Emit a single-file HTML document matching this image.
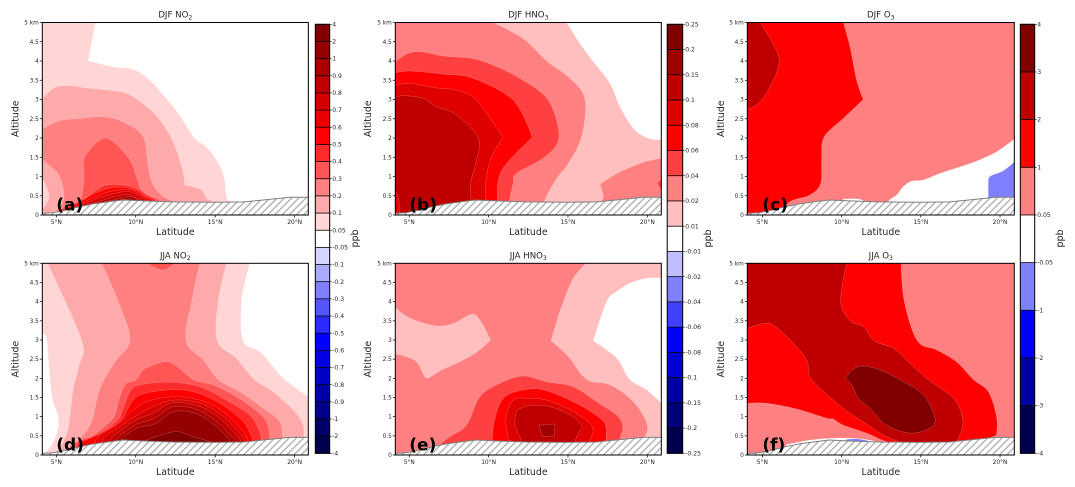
<!DOCTYPE html>
<html lang="en">
<head>
<meta charset="utf-8">
<title>Seasonal trace gas differences by latitude and altitude</title>
<style>
html,body{margin:0;padding:0;background:#fff;width:1075px;height:487px;overflow:hidden}
svg{display:block}
text{font-family:"DejaVu Sans","Liberation Sans",sans-serif;fill:#262626}
</style>
</head>
<body>
<svg id="figure" xmlns="http://www.w3.org/2000/svg" width="1075" height="487" viewBox="0 0 1075 487">
<defs>
<pattern id="hatch" patternUnits="userSpaceOnUse" width="7.2" height="7.2">
<rect width="7.2" height="7.2" fill="#fff"/>
<path d="M-1 1L1 -1M0 7.2L7.2 0M6.2 8.2L8.2 6.2" stroke="#adadad" stroke-width="1.3" fill="none"/>
</pattern>
</defs>
</svg>
<script>
// ---------- tick labels and levels ----------
const altTicks = [0, 0.5, 1, 1.5, 2, 2.5, 3, 3.5, 4, 4.5, 5];
const altTickLabels = ['0', '0.5', '1', '1.5', '2', '2.5', '3', '3.5', '4', '4.5', '5 km'];
const latTicks = [5, 10, 15, 20];
const latTickLabels = ['5°N', '10°N', '15°N', '20°N'];
const no2Levels = [-4, -2, -1, -0.9, -0.8, -0.7, -0.6, -0.5, -0.4, -0.3, -0.2, -0.1, -0.05, 0.05, 0.1, 0.2, 0.3, 0.4, 0.5, 0.6, 0.7, 0.8, 0.9, 1, 2, 4];
const hno3Levels = [-0.25, -0.2, -0.15, -0.1, -0.08, -0.06, -0.04, -0.02, -0.01, 0.01, 0.02, 0.04, 0.06, 0.08, 0.1, 0.15, 0.2, 0.25];
const o3Levels = [-4, -3, -2, -1, -0.05, 0.05, 1, 2, 3, 4];

// ---------- terrain profile ----------
const terrainLat = [4.0, 4.8, 5.65, 6.5, 7.33, 8.4, 9.2, 10.9, 12.36, 14.9, 16.8, 17.8, 19.7, 21.0];
const terrainAlt = [0.04, 0.06, 0.13, 0.22, 0.29, 0.35, 0.39, 0.36, 0.34, 0.33, 0.34, 0.38, 0.46, 0.46];

// ---------- (a) DJF NO2 contours: [latitude, altitude km] ----------
const djfNo2L005 = [[4.12,5],[7.47,5],[7.01,4],[8.58,3.85],[9.84,3.78],[10.89,3.5],[12.15,2.92],[12.88,2.51],[13.72,1.99],[14.45,1.77],[15.08,1.43],[15.55,1],[15.71,0.48],[15.88,0.33],[15.9,0],[4.12,0]];
const djfNo2L01 = [[4.12,3.01],[4.81,3.29],[5.65,3.36],[6.91,3.3],[8.38,3.24],[9.53,3.14],[10.68,2.81],[11.52,2.47],[12.36,1.9],[12.95,1.17],[13.09,0.78],[14.14,0.65],[14.45,0.43],[14.87,0.33],[14.87,0],[4.12,0]];
const djfNo2L02 = [[4.12,2.23],[5.23,2.45],[6.49,2.51],[7.96,2.55],[9.21,2.42],[10.47,2.03],[10.79,1.25],[11.1,0.78],[11.73,0.48],[12.36,0.33],[12.36,0],[4.81,0],[5.44,0.39],[5.38,0.78],[5.02,1.12],[4.12,1.43]];
const djfNo2Inner005 = [[4.12,0.95],[4.54,0.56],[4.39,0.3],[4.12,0.17]];
const djfNo2L03 = [[7.85,1.97],[8.58,1.9],[9.63,1.43],[10.05,1],[10.37,0.65],[11,0.48],[11.52,0.36],[11.52,0],[5.65,0],[5.65,0.17],[6.17,0.29],[6.59,0.48],[6.74,0.99],[6.8,1.51]];
const djfNo2L04 = [[5.23,0.15],[6.28,0.3],[7.54,0.65],[8.17,0.78],[9.21,0.78],[10.05,0.69],[10.68,0.52],[11.31,0.36],[11.31,0],[5.23,0]];
const djfNo2L05 = [[5.44,0.13],[6.49,0.35],[7.43,0.56],[8.27,0.69],[9.21,0.72],[10.05,0.63],[10.58,0.48],[11.06,0.36],[11.06,0],[5.44,0]];
const djfNo2L06 = [[5.6,0.13],[6.49,0.29],[7.54,0.48],[8.38,0.61],[9.42,0.67],[10.05,0.58],[10.79,0.36],[10.79,0],[5.6,0]];
const djfNo2L07 = [[6.07,0.17],[7.54,0.42],[8.58,0.55],[9.53,0.61],[10.26,0.48],[10.58,0.36],[10.58,0],[6.07,0]];
const djfNo2L08 = [[6.7,0.23],[7.75,0.36],[8.8,0.49],[9.53,0.54],[10.05,0.43],[10.37,0.36],[10.37,0],[6.7,0]];
const djfNo2L09 = [[7.54,0.29],[9,0.43],[9.63,0.48],[10.16,0.36],[10.16,0],[7.54,0]];
const djfNo2L1 = [[8.58,0.35],[9.53,0.42],[9.84,0.36],[9.84,0],[8.58,0]];

// ---------- (d) JJA NO2 contours ----------
const jjaNo2L005 = [[4.12,5],[17.18,5],[16.66,4],[16.76,2.98],[17.81,2.7],[18.65,2.3],[19.38,1.97],[20.86,1.52],[20.86,0],[4.18,0],[4.71,0.26],[5.06,0.61],[5.13,0.96],[4.75,1.48],[4.6,2],[4.39,3],[4.12,3.17]];
const jjaNo2L01 = [[4.45,5],[15.71,5],[15.19,4],[15.13,2.98],[16.34,2.52],[17.45,1.97],[18.65,1.65],[20.01,1.13],[20.53,0.78],[20.58,0.43],[20.58,0],[4.9,0],[5.33,0.26],[5.75,0.7],[6.07,1.74],[6.45,2.35],[6.59,3]];
const jjaNo2L02 = [[7.85,5],[14.04,5],[13.52,4],[13.16,2.98],[14.25,2.48],[15.19,1.97],[16.55,1.65],[18.02,1.22],[19.07,0.87],[19.23,0.43],[19.23,0],[5.65,0],[5.65,0.13],[6.49,0.43],[7.22,0.87],[7.75,1.74],[8.69,2.43],[9.63,3],[8.9,4]];
const jjaNo2L03 = [[10.68,5],[11.31,4.87],[11.83,4.83],[12.46,5]];
const jjaNo2L03Main = [[11.73,2.43],[12.46,2.35],[13.62,1.97],[14.87,1.83],[16.13,1.57],[17.39,1.22],[18.23,0.87],[18.44,0.43],[18.44,0],[5.65,0],[5.65,0.13],[6.49,0.39],[7.33,0.52],[8.58,0.96],[8.9,1.39],[9.32,1.83],[10.05,1.97],[10.47,2.22]];
const jjaNo2L04 = [[12.15,1.9],[14.04,1.78],[15.71,1.43],[17.18,1.04],[17.81,0.6],[17.91,0.35],[17.91,0],[6,0],[6.49,0.35],[7.54,0.52],[8.79,0.87],[9.21,1.22],[9.63,1.65],[10.26,1.83]];
const jjaNo2L05 = [[12.15,1.7],[13.62,1.65],[15.29,1.35],[16.76,0.87],[17.39,0.35],[17.39,0],[6,0],[6.49,0.3],[7.75,0.56],[9,0.87],[9.53,1.22],[9.84,1.43],[10.47,1.6]];
const jjaNo2L06 = [[7.54,0.43],[8.79,0.78],[9.74,1.13],[10.68,1.39],[12.36,1.52],[14.04,1.43],[15.5,1.13],[16.76,0.61],[17.08,0.3],[17.08,0],[7.54,0]];
const jjaNo2L07 = [[7.96,0.43],[9,0.74],[9.95,1],[10.89,1.22],[12.36,1.43],[14.04,1.35],[15.4,1.04],[16.55,0.56],[16.87,0.3],[16.87,0],[7.96,0]];
const jjaNo2L08 = [[8.38,0.39],[9.84,0.87],[11.1,1.09],[12.36,1.37],[14.04,1.26],[15.29,0.96],[16.34,0.52],[16.66,0.3],[16.66,0],[8.38,0]];
const jjaNo2L09 = [[8.69,0.35],[9.95,0.78],[11.2,0.96],[12.36,1.26],[13.83,1.19],[15.08,0.87],[16.03,0.48],[16.38,0.3],[16.38,0],[8.69,0]];
const jjaNo2L1 = [[9,0.35],[10.05,0.7],[11.2,0.81],[12.15,1.09],[12.99,1.15],[14.04,1.04],[15.08,0.74],[15.92,0.35],[15.92,0],[9,0]];
const jjaNo2L2 = [[10.47,0.35],[11.31,0.48],[12.57,0.61],[13.62,0.48],[15.08,0.3],[15.08,0],[10.47,0]];

// ---------- (b) DJF HNO3 contours ----------
const djfHno3L001 = [[4.12,5],[14.92,5],[15.76,4.45],[16.6,3.98],[17.65,3.42],[18.28,2.81],[19.12,2.25],[20.06,1.99],[20.88,1.96],[20.88,0],[4.12,0]];
const djfHno3L002 = [[4.12,5],[10.29,5],[12.18,4.58],[13.66,4],[15.13,3.55],[16.07,3.01],[15.86,2.03],[15.02,1.34],[14.29,0.95],[13.55,0.39],[13.4,0],[4.12,0]];
const djfHno3L002Lobe = [[17.02,0.8],[18.28,1.12],[19.75,1.37],[20.88,1.47],[20.88,0],[17.12,0],[17.12,0.35],[17.23,0.48]];
const djfHno3L004Lobe = [[20.88,0.95],[20.63,0.82],[20.88,0.63]];
const djfHno3L004 = [[4.12,3.98],[4.94,4.2],[5.78,4.24],[7.14,4.13],[8.93,4.07],[10.29,3.89],[11.97,3.55],[13.76,2.98],[14.43,2.03],[13.55,1.51],[11.76,1.08],[11.55,0.82],[11.34,0.39],[11.3,0],[4.12,0]];
const djfHno3L006 = [[4.12,3.69],[5.04,3.74],[7.14,3.66],[9.03,3.55],[11.55,2.98],[12.75,2.02],[11.13,1.34],[10.61,0.91],[10.55,0.39],[10.55,0],[4.12,0]];
const djfHno3L008 = [[4.12,3.36],[5.04,3.42],[6.55,3.31],[7.98,3.24],[9.24,2.98],[10.88,2.02],[10.19,1.51],[9.83,0.91],[9.83,0.39],[9.83,0],[4.12,0]];
const djfHno3L01 = [[4.12,3.05],[4.62,3.1],[5.88,3.03],[6.62,2.83],[7.98,2.6],[9.35,1.99],[9.24,1.43],[8.89,0.87],[8.89,0.35],[8.89,0],[4.12,0]];
const djfHno3Corner008 = [[4.12,0.61],[4.31,0.48],[4.41,0],[4.12,0]];

// ---------- (e) JJA HNO3 contours ----------
const jjaHno3L001 = [[4.12,5],[20.88,5],[20.88,4.61],[19.96,4.61],[18.9,4.48],[18.07,4.26],[17.44,4],[16.6,2.98],[17.44,2.74],[18.17,2.48],[18.9,1.97],[19.96,1.7],[20.88,1.35],[20.88,0],[4.12,0]];
const jjaHno3L002 = [[4.12,5],[16.13,5],[15.34,4.61],[14.71,4],[14.29,3.48],[13.93,2.98],[15.02,2.57],[16.18,1.97],[17.65,1.83],[19.12,1.39],[20,0.78],[19.75,0.35],[19.75,0],[4.12,0]];
const jjaHno3Lobe001 = [[4.12,3.85],[5.04,3.57],[6.62,3.37],[7.77,3.43],[8.93,3.67],[9.45,3.52],[10.13,3],[9.14,2.65],[7.77,2.35],[7.04,2.22],[6.3,2.03],[5.99,2.04],[5.46,2.43],[4.62,2.59],[4.12,2.63]];
const jjaHno3L004 = [[12.18,2.06],[13.66,1.91],[15.34,1.78],[16.8,1.39],[18.07,1.04],[18.45,0.74],[18.24,0.35],[18.24,0],[6.9,0],[6.93,0.26],[7.56,0.48],[8.61,0.78],[9.45,1.52],[10.71,1.87]];
const jjaHno3L006 = [[12.6,1.72],[13.87,1.65],[15.76,1.3],[17.02,0.96],[17.39,0.74],[17.39,0.35],[17.39,0],[10.21,0],[10.21,0.35],[10.4,0.96],[11.03,1.52]];
const jjaHno3L008 = [[12.39,1.48],[13.66,1.43],[15.34,1.13],[16.53,0.74],[16.39,0.35],[16.39,0],[11.45,0],[11.45,0.35],[11.24,0.43],[11.09,0.96],[11.55,1.43]];
const jjaHno3L01 = [[12.6,1.29],[13.87,1.26],[15.34,1],[15.9,0.74],[15.44,0.35],[15.44,0],[12.08,0],[12.08,0.35],[11.66,0.78],[11.76,1.16]];
const jjaHno3L015 = [[13.17,0.78],[14.18,0.81],[14.14,0.5],[13.4,0.48]];

// ---------- (c) DJF O3 contours ----------
const djfO3L005 = [[4.05,5],[20.9,5],[20.9,1.97],[19.78,1.64],[18.52,1.4],[17.47,1.25],[16.21,1.08],[15.16,0.91],[14.42,0.88],[13.9,0.74],[13.48,0.52],[12.95,0.35],[12.95,0],[4.05,0]];
const djfO3L1 = [[4.05,5],[10.11,5],[10.53,4.37],[10.95,3.5],[11.37,3],[10.11,2.51],[8.89,2.02],[8.74,1.43],[8.68,0.82],[8,0.52],[6.75,0.35],[6,0],[4.05,0]];
const djfO3L2 = [[4.85,5],[5.48,4.58],[6.07,4],[5.48,3.33],[4.75,2.9],[4.05,2.74],[4.05,5]];
const djfO3Neg = [[20.9,1.38],[20.2,1.15],[19.36,1],[19.26,0.82],[19.26,0.43],[19.26,0],[20.9,0]];
const djfO3Gap = [[10.11,0.42],[11,0.42],[11.4,0.37],[11,0.3],[10,0.3]];

// ---------- (f) JJA O3 contours ----------
const jjaO3L005 = [[4.05,5],[20.9,5],[20.9,0],[4.05,0]];
const jjaO3L1 = [[4.05,5],[13.75,5],[13.96,4],[14.78,2.98],[16,2.74],[17.26,2.43],[18.31,1.97],[19.26,1.65],[19.78,1],[19.78,0.52],[19.15,0.39],[19.15,0.25],[14.32,0.25],[12.84,0.35],[11.58,0.57],[10.11,0.78],[9.48,0.94],[9.06,0.96],[7.17,1.2],[5.27,1.35],[4.05,1.35]];
const jjaO3L2 = [[4.05,5],[10.32,5],[9.94,4],[10.53,3.5],[11.37,3.35],[12.05,2.98],[13.27,2.78],[14.32,2.39],[15.37,2],[17.05,1.48],[17.62,1],[17.58,0.65],[17.26,0.35],[14.32,0.3],[12.84,0.48],[11.69,0.78],[10.11,1.22],[8.11,1.97],[7.8,2.48],[6.75,3],[5.69,3.39],[5.06,3.43],[4.05,3.3]];
const jjaO3L3 = [[10.26,2],[10.74,2.24],[11.37,2.32],[12.42,2.22],[13.69,1.96],[15.16,1.57],[15.89,0.96],[15.58,0.7],[14.32,0.57],[12.84,0.78],[11.79,1.22],[11.06,1.48],[10.64,1.83]];
const jjaO3Gap = [[6.5,0.27],[8,0.39],[9.5,0.44],[11,0.43],[12,0.37],[12.5,0.3],[6.5,0.1]];
const jjaO3Neg = [[10.3,0.41],[11,0.42],[11.7,0.37],[11,0.3],[10.3,0.3]];

// ---------- axis geometry ----------
const svg = document.getElementById('figure');
const NS = 'http://www.w3.org/2000/svg';
const rows = {top: {y0: 215, y1: 22.5}, bottom: {y0: 455, y1: 263.3}};

function add(parent, tag, attrs, text) {
  const el = document.createElementNS(NS, tag);
  for (const k in attrs) el.setAttribute(k, attrs[k]);
  if (text !== undefined) el.textContent = text;
  parent.appendChild(el);
  return el;
}
function mix(a, b, f) { return a + (b - a) * f; }
function seismic(t) {
  let r, g, b;
  if (t < 0.25) { r = 0; g = 0; b = mix(0.3, 1, t / 0.25); }
  else if (t < 0.5) { const f = (t - 0.25) / 0.25; r = f; g = f; b = 1; }
  else if (t < 0.75) { const f = (t - 0.5) / 0.25; r = 1; g = 1 - f; b = 1 - f; }
  else { r = mix(1, 0.5, (t - 0.75) / 0.25); g = 0; b = 0; }
  return 'rgb(' + Math.round(r * 255) + ',' + Math.round(g * 255) + ',' + Math.round(b * 255) + ')';
}
function bandColor(levels, lower) {
  const i = levels.indexOf(lower);
  return seismic(i / (levels.length - 2));
}
// Closed contour outline: rounded through interior points, sharp at kinks and at the axes edge.
function contourPath(arr, xAt, yAt, p) {
  const n = arr.length;
  const px = arr.map(function (d) { return [xAt(d[0]), yAt(d[1])]; });
  const tan = arr.map(function (d, i) {
    const onEdge = d[1] >= 5 || d[1] <= 0 || d[0] <= p.latMin + 0.01 || d[0] >= p.latMax - 0.01;
    const a = px[(i + n - 1) % n], b = px[i], c = px[(i + 1) % n];
    const ux = b[0] - a[0], uy = b[1] - a[1], vx = c[0] - b[0], vy = c[1] - b[1];
    const lu = Math.hypot(ux, uy) || 1, lv = Math.hypot(vx, vy) || 1;
    const sharp = (ux * vx + uy * vy) / (lu * lv) < 0.45;
    if (onEdge || sharp) return [0, 0];
    return [(c[0] - a[0]) * 0.5, (c[1] - a[1]) * 0.5];
  });
  let d = 'M' + px[0][0].toFixed(2) + ' ' + px[0][1].toFixed(2);
  for (let i = 0; i < n; i++) {
    const j = (i + 1) % n;
    d += 'C' + (px[i][0] + tan[i][0] / 3).toFixed(2) + ' ' + (px[i][1] + tan[i][1] / 3).toFixed(2) + ' '
      + (px[j][0] - tan[j][0] / 3).toFixed(2) + ' ' + (px[j][1] - tan[j][1] / 3).toFixed(2) + ' '
      + px[j][0].toFixed(2) + ' ' + px[j][1].toFixed(2);
  }
  return d + 'Z';
}

function drawPanel(p, clipId) {
  const row = rows[p.row];
  const xAt = function (lat) { return p.x0 + (lat - p.latMin) / (p.latMax - p.latMin) * (p.x1 - p.x0); };
  const yAt = function (alt) { return row.y0 + alt / 5 * (row.y1 - row.y0); };
  const pts = function (arr) { return arr.map(function (d) { return xAt(d[0]).toFixed(2) + ',' + yAt(d[1]).toFixed(2); }).join(' '); };

  const g = add(svg, 'g', {});
  
  

  const clip = add(svg.querySelector('defs'), 'clipPath', {id: clipId});
  add(clip, 'rect', {x: p.x0, y: row.y1, width: p.x1 - p.x0, height: row.y0 - row.y1});

  const plot = add(g, 'g', {'clip-path': 'url(#' + clipId + ')'});
  
  
  add(plot, 'rect', {x: p.x0, y: row.y1, width: p.x1 - p.x0, height: row.y0 - row.y1, fill: '#fff'});

  p.layers.forEach(function (layer) {
    const fill = layer[0] === null ? '#fff' : bandColor(p.levels, layer[0]);
    const shape = add(plot, 'path', {d: contourPath(layer[1], xAt, yAt, p), fill: fill, stroke: '#fff', 'stroke-opacity': layer[0] === null ? 0 : 0.32, 'stroke-width': 0.5});
    
    
  });

  const ground = terrainLat.map(function (lat, i) { return [lat, terrainAlt[i]]; });
  const terrain = add(plot, 'polygon', {points: pts(ground.concat([[21, -0.1], [4, -0.1]])), fill: 'url(#hatch)'});
  
  
  const ridge = add(plot, 'polyline', {points: pts(ground), fill: 'none', stroke: '#7f7f7f', 'stroke-width': 1});
  
  

  const frame = add(g, 'rect', {x: p.x0, y: row.y1, width: p.x1 - p.x0, height: row.y0 - row.y1, fill: 'none', stroke: '#000', 'stroke-width': 1});
  
  

  altTicks.forEach(function (alt, i) {
    const y = yAt(alt);
    const tick = add(g, 'line', {x1: p.x0 - 2.5, x2: p.x0, y1: y, y2: y, stroke: '#000', 'stroke-width': 0.7});
    
    
    const label = add(g, 'text', {x: p.x0 - 3.5, y: y + 2, 'text-anchor': 'end', 'font-size': 5.8}, altTickLabels[i]);
    
    
  });
  latTicks.forEach(function (lat, i) {
    const x = xAt(lat);
    const tick = add(g, 'line', {x1: x, x2: x, y1: row.y0, y2: row.y0 + 2.5, stroke: '#000', 'stroke-width': 0.7});
    
    
    const label = add(g, 'text', {x: x, y: row.y0 + 9, 'text-anchor': 'middle', 'font-size': 5.9}, latTickLabels[i]);
    
    
  });

  const cx = (p.x0 + p.x1) / 2;
  const title = add(g, 'text', {x: cx, y: row.y1 - 5, 'text-anchor': 'middle', 'font-size': 8.6}, p.season + ' ' + p.species);
  
  
  const sub = add(title, 'tspan', {dy: 1.8, 'font-size': 6.2}, p.subscript);
  
  

  const xTitle = add(g, 'text', {x: cx, y: row.y0 + 20, 'text-anchor': 'middle', 'font-size': 9.4}, 'Latitude');
  
  
  const my = (row.y0 + row.y1) / 2;
  const yTitle = add(g, 'text', {x: p.yTitleX, y: my, 'text-anchor': 'middle', 'font-size': 9.4, transform: 'rotate(-90 ' + p.yTitleX + ' ' + my + ')'}, 'Altitude');
  
  

  const tag = add(g, 'text', {x: xAt(5), y: row.y0 - 4.5, 'font-size': 17, 'font-weight': 'bold'}, p.tag);
  tag.style.fill = '#000';
  
  
}

function drawColorbar(levels, x0, x1, ppbX) {
  const top = 24.3, bottom = 453.3;
  const n = levels.length - 1;
  const yAt = function (i) { return bottom + (top - bottom) * i / n; };
  const g = add(svg, 'g', {});
  
  
  for (let i = 0; i < n; i++) {
    const band = add(g, 'rect', {x: x0, y: yAt(i + 1), width: x1 - x0, height: yAt(i) - yAt(i + 1) + 0.3, fill: bandColor(levels, levels[i])});
    
    
  }
  levels.forEach(function (v, i) {
    const y = yAt(i);
    const edge = add(g, 'line', {x1: x0, x2: x1, y1: y, y2: y, stroke: '#000', 'stroke-width': 0.8});
    
    
    const tick = add(g, 'line', {x1: x1, x2: x1 + 2, y1: y, y2: y, stroke: '#000', 'stroke-width': 0.6});
    
    
    const label = add(g, 'text', {x: x1 + 2.5, y: y + 2.1, 'font-size': 6.1}, String(v));
    
    
  });
  const frame = add(g, 'rect', {x: x0, y: top, width: x1 - x0, height: bottom - top, fill: 'none', stroke: '#000', 'stroke-width': 1});
  
  
  const unit = add(g, 'text', {x: ppbX, y: 238.5, 'text-anchor': 'middle', 'font-size': 9.4, transform: 'rotate(-90 ' + ppbX + ' 238.5)'}, 'ppb');
  
  
}

const panels = [
  {key: 'djf-no2', tag: '(a)', season: 'DJF', species: 'NO', subscript: '2', row: 'top', x0: 42.3, x1: 308.3, latMin: 4.12, latMax: 20.86, yTitleX: 18.5, levels: no2Levels,
   layers: [[0.05, djfNo2L005], [0.1, djfNo2L01], [0.2, djfNo2L02], [0.05, djfNo2Inner005], [0.3, djfNo2L03], [0.4, djfNo2L04], [0.5, djfNo2L05], [0.6, djfNo2L06], [0.7, djfNo2L07], [0.8, djfNo2L08], [0.9, djfNo2L09], [1, djfNo2L1]]},
  {key: 'djf-hno3', tag: '(b)', season: 'DJF', species: 'HNO', subscript: '3', row: 'top', x0: 395.3, x1: 661.3, latMin: 4.12, latMax: 20.88, yTitleX: 371, levels: hno3Levels,
   layers: [[0.01, djfHno3L001], [0.02, djfHno3L002], [0.02, djfHno3L002Lobe], [0.04, djfHno3L004Lobe], [0.04, djfHno3L004], [0.06, djfHno3L006], [0.08, djfHno3L008], [0.1, djfHno3L01], [0.08, djfHno3Corner008]]},
  {key: 'djf-o3', tag: '(c)', season: 'DJF', species: 'O', subscript: '3', row: 'top', x0: 747.3, x1: 1014.3, latMin: 4.05, latMax: 20.9, yTitleX: 724, levels: o3Levels,
   layers: [[0.05, djfO3L005], [1, djfO3L1], [2, djfO3L2], [-1, djfO3Neg], [null, djfO3Gap]]},
  {key: 'jja-no2', tag: '(d)', season: 'JJA', species: 'NO', subscript: '2', row: 'bottom', x0: 42.3, x1: 308.3, latMin: 4.12, latMax: 20.86, yTitleX: 18.5, levels: no2Levels,
   layers: [[0.05, jjaNo2L005], [0.1, jjaNo2L01], [0.2, jjaNo2L02], [0.3, jjaNo2L03], [0.3, jjaNo2L03Main], [0.4, jjaNo2L04], [0.5, jjaNo2L05], [0.6, jjaNo2L06], [0.7, jjaNo2L07], [0.8, jjaNo2L08], [0.9, jjaNo2L09], [1, jjaNo2L1], [2, jjaNo2L2]]},
  {key: 'jja-hno3', tag: '(e)', season: 'JJA', species: 'HNO', subscript: '3', row: 'bottom', x0: 395.3, x1: 661.3, latMin: 4.12, latMax: 20.88, yTitleX: 371, levels: hno3Levels,
   layers: [[0.01, jjaHno3L001], [0.02, jjaHno3L002], [0.01, jjaHno3Lobe001], [0.04, jjaHno3L004], [0.06, jjaHno3L006], [0.08, jjaHno3L008], [0.1, jjaHno3L01], [0.15, jjaHno3L015]]},
  {key: 'jja-o3', tag: '(f)', season: 'JJA', species: 'O', subscript: '3', row: 'bottom', x0: 747.3, x1: 1014.3, latMin: 4.05, latMax: 20.9, yTitleX: 724, levels: o3Levels,
   layers: [[0.05, jjaO3L005], [1, jjaO3L1], [2, jjaO3L2], [3, jjaO3L3], [null, jjaO3Gap], [-1, jjaO3Neg]]}
];

panels.forEach(function (p, i) { drawPanel(p, 'clip-' + i); });
drawColorbar(no2Levels, 315.3, 329.7, 358);
drawColorbar(hno3Levels, 667.2, 682.7, 711);
drawColorbar(o3Levels, 1020.3, 1034.7, 1063);
</script>
</body>
</html>
